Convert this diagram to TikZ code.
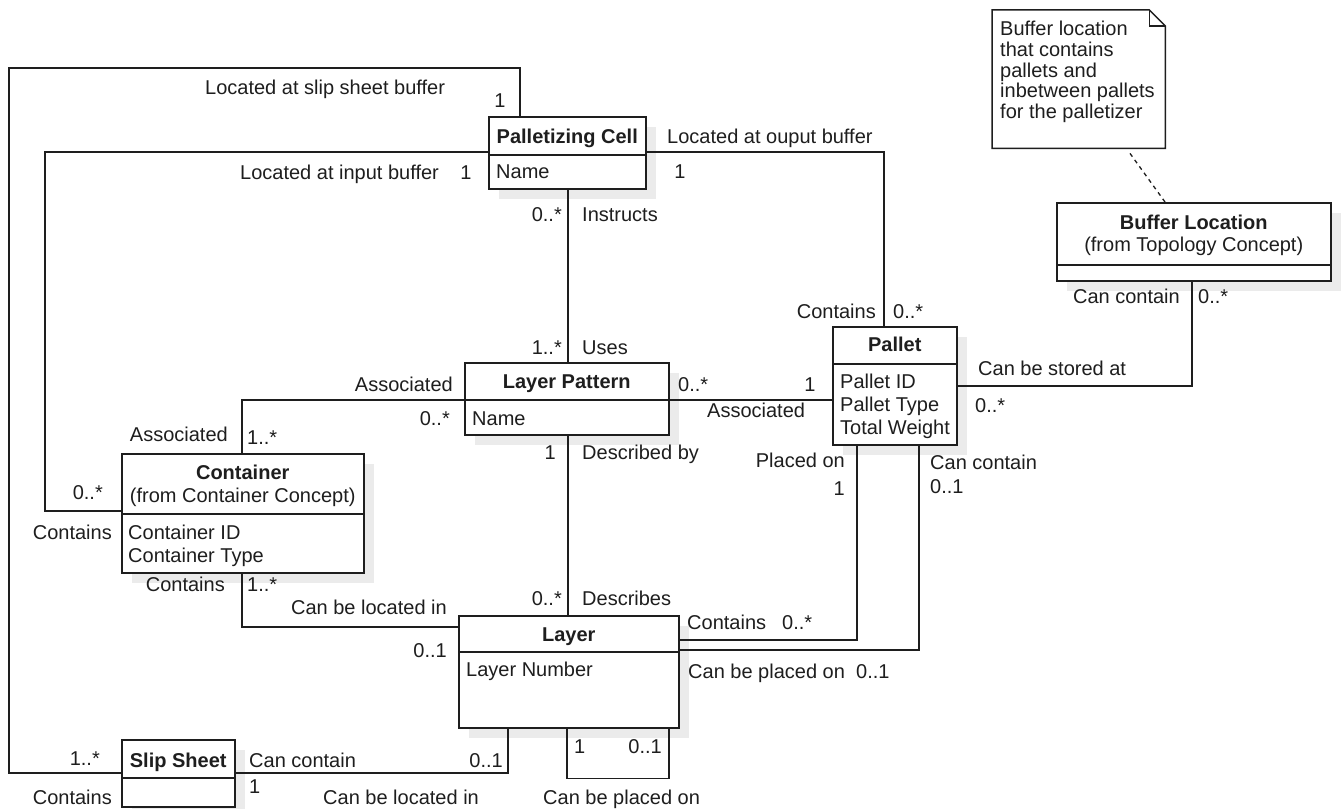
\documentclass[tikz,border=0pt]{standalone}
\usepackage{fontspec}
\setmainfont{Liberation Sans}
\usetikzlibrary{calc,shadows}
\definecolor{ink}{HTML}{1E1E1E}
\definecolor{shade}{HTML}{EBEBEB}

\begin{document}
\begin{tikzpicture}[x=1pt,y=-1pt,
  every node/.style={font=\fontsize{20}{24}\selectfont, text=ink},
  wire/.style={draw=ink, line width=1.5pt},
  classbox/.style={draw=ink, line width=1.5pt, fill=white, anchor=north west, inner sep=0pt,
    drop shadow={shadow xshift=10pt, shadow yshift=-10pt, fill=shade, opacity=1}},
  lbl/.style={inner sep=0pt, text height=15pt, text depth=1pt},
  title/.style={lbl, font=\fontsize{20}{24}\selectfont\bfseries},
]
\path[use as bounding box, fill=white] (0,0) rectangle (1343,808);

% ---------- classes ----------
\node[classbox, minimum width=157pt, minimum height=72pt]  (pc)  at (488,116) {};
\node[classbox, minimum width=204pt, minimum height=72pt]  (lp)  at (464,362) {};
\node[classbox, minimum width=124pt, minimum height=118pt] (pal) at (832,326) {};
\node[classbox, minimum width=274pt, minimum height=78pt]  (bl)  at (1056,202) {};
\node[classbox, minimum width=242pt, minimum height=119pt] (con) at (121,453) {};
\node[classbox, minimum width=220pt, minimum height=112pt] (lay) at (458,615) {};
\node[classbox, minimum width=113pt, minimum height=67pt]  (ss)  at (121,739) {};

% compartment dividers
\draw[wire] ($(pc.north west)+(0,39)$)  -- ($(pc.north east)+(0,39)$);
\draw[wire] ($(lp.north west)+(0,38)$)  -- ($(lp.north east)+(0,38)$);
\draw[wire] ($(pal.north west)+(0,38)$) -- ($(pal.north east)+(0,38)$);
\draw[wire] ($(bl.north west)+(0,63)$)  -- ($(bl.north east)+(0,63)$);
\draw[wire] ($(con.north west)+(0,61)$) -- ($(con.north east)+(0,61)$);
\draw[wire] ($(lay.north west)+(0,37)$) -- ($(lay.north east)+(0,37)$);
\draw[wire] ($(ss.north west)+(0,39)$)  -- ($(ss.north east)+(0,39)$);

% class names and attributes
\node[title] at ($(pc.north)+(0,20)$)  {Palletizing Cell};
\node[lbl, anchor=west] at ($(pc.north west)+(8,55)$) {Name};
\node[title] at ($(lp.north)+(0,19)$)  {Layer Pattern};
\node[lbl, anchor=west] at ($(lp.north west)+(8,56)$) {Name};
\node[title] at ($(pal.north)+(0,18)$) {Pallet};
\node[lbl, anchor=west] at ($(pal.north west)+(8,55)$)  {Pallet ID};
\node[lbl, anchor=west] at ($(pal.north west)+(8,78)$)  {Pallet Type};
\node[lbl, anchor=west] at ($(pal.north west)+(8,101)$) {Total Weight};
\node[title] at ($(bl.north)+(0,20)$)  {Buffer Location};
\node[lbl]   at ($(bl.north)+(0,42)$)  {(from Topology Concept)};
\node[title] at ($(con.north)+(0,19)$) {Container};
\node[lbl]   at ($(con.north)+(0,42)$) {(from Container Concept)};
\node[lbl, anchor=west] at ($(con.north west)+(7,79)$)  {Container ID};
\node[lbl, anchor=west] at ($(con.north west)+(7,102)$) {Container Type};
\node[title] at ($(lay.north)+(0,19)$) {Layer};
\node[lbl, anchor=west] at ($(lay.north west)+(8,54)$) {Layer Number};
\node[title] at ($(ss.north)+(0,21)$)  {Slip Sheet};

% ---------- note ----------
\node[minimum width=173pt, minimum height=138pt, anchor=north west, inner sep=0pt] (note) at (992,10) {};
\draw[wire, fill=white] (note.north west) -- ($(note.north east)+(-16,0)$) -- ($(note.north east)+(0,16)$)
  -- (note.south east) -- (note.south west) -- cycle;
\draw[wire] ($(note.north east)+(-16,0)$) -- ($(note.north east)+(-16,16)$) -- ($(note.north east)+(0,16)$);
\node[anchor=north west, align=left, inner sep=0pt, font=\fontsize{20}{20.7}\selectfont]
  at ($(note.north west)+(8,11)$)
  {Buffer location\\that contains\\pallets and\\inbetween pallets\\for the palletizer};
\draw[draw=ink, line width=1.3pt, dash pattern=on 4pt off 4pt]
  ($(note.south west)+(138,5)$) -- ($(bl.north west)+(109,0)$);

% ---------- associations ----------
\coordinate (k1) at (9,68);
\coordinate (k2) at (45,152);
\draw[wire] ($(pc.north west)+(32,0)$) |- (k1) |- ($(ss.north west)+(0,34)$);
\draw[wire] ($(pc.north west)+(0,36)$) -- (k2) |- ($(con.north west)+(0,58)$);
\draw[wire] ($(pc.north east)+(0,36)$) -| ($(pal.north west)+(52,0)$);
\draw[wire] ($(pc.south west)+(80,0)$) -- ($(lp.north west)+(104,0)$);
\draw[wire] ($(lp.north east)+(0,38)$) -- ($(pal.north west)+(0,74)$);
\draw[wire] ($(lp.north west)+(0,38)$) -| ($(con.north west)+(121,0)$);
\draw[wire] ($(lp.south west)+(104,0)$) -- ($(lay.north west)+(110,0)$);
\draw[wire] ($(con.south west)+(121,0)$) |- ($(lay.north west)+(0,12)$);
\draw[wire] ($(lay.north east)+(0,25)$) -| ($(pal.south west)+(25,0)$);
\draw[wire] ($(lay.north east)+(0,35)$) -| ($(pal.south west)+(87,0)$);
\draw[wire] ($(bl.south west)+(136,0)$) |- ($(pal.north east)+(0,60)$);
\draw[wire] ($(lay.south west)+(109,0)$) |- ($(lay.south west)+(211,50)$) -- ($(lay.south west)+(211,0)$);
\draw[wire] ($(lay.south west)+(50,0)$) |- ($(ss.north east)+(0,34)$);

% ---------- role names and multiplicities ----------
\node[lbl, anchor=west]   at (205,87)  {Located at slip sheet buffer};
\node[lbl]                at (500,100) {1};
\node[lbl, anchor=west]   at (240,172) {Located at input buffer};
\node[lbl]                at (466,172) {1};
\node[lbl, anchor=west]   at (667,136) {Located at ouput buffer};
\node[lbl]                at (680,171) {1};
\node[lbl, anchor=east]   at (562,214) {0..*};
\node[lbl, anchor=west]   at (582,214) {Instructs};
\node[lbl, anchor=east]   at (562,347) {1..*};
\node[lbl, anchor=west]   at (582,347) {Uses};
\node[lbl, anchor=east]   at (876,311) {Contains};
\node[lbl, anchor=west]   at (893,311) {0..*};
\node[lbl, anchor=east]   at (1180,296) {Can contain};
\node[lbl, anchor=west]   at (1198,296) {0..*};
\node[lbl, anchor=west]   at (978,368) {Can be stored at};
\node[lbl, anchor=west]   at (975,405) {0..*};
\node[lbl, anchor=west]   at (678,384) {0..*};
\node[lbl]                at (810,384) {1};
\node[lbl, anchor=west]   at (707,410) {Associated};
\node[lbl, anchor=east]   at (453,384) {Associated};
\node[lbl, anchor=east]   at (450,418) {0..*};
\node[lbl, anchor=east]   at (228,434) {Associated};
\node[lbl, anchor=west]   at (247,437) {1..*};
\node[lbl, anchor=east]   at (103,492) {0..*};
\node[lbl, anchor=east]   at (112,532) {Contains};
\node[lbl, anchor=east]   at (225,584) {Contains};
\node[lbl, anchor=west]   at (247,584) {1..*};
\node[lbl, anchor=east]   at (447,607) {Can be located in};
\node[lbl, anchor=east]   at (447,650) {0..1};
\node[lbl, anchor=east]   at (556,452) {1};
\node[lbl, anchor=west]   at (582,452) {Described by};
\node[lbl, anchor=east]   at (562,598) {0..*};
\node[lbl, anchor=west]   at (582,598) {Describes};
\node[lbl, anchor=west]   at (687,622) {Contains};
\node[lbl, anchor=west]   at (782,622) {0..*};
\node[lbl, anchor=east]   at (845,460) {Placed on};
\node[lbl, anchor=east]   at (845,488) {1};
\node[lbl, anchor=west]   at (930,462) {Can contain};
\node[lbl, anchor=west]   at (930,486) {0..1};
\node[lbl, anchor=west]   at (688,671) {Can be placed on};
\node[lbl, anchor=west]   at (856,671) {0..1};
\node[lbl, anchor=west]   at (574,746) {1};
\node[lbl, anchor=east]   at (662,746) {0..1};
\node[lbl, anchor=west]   at (543,797) {Can be placed on};
\node[lbl, anchor=west]   at (249,760) {Can contain};
\node[lbl, anchor=west]   at (249,786) {1};
\node[lbl, anchor=east]   at (503,760) {0..1};
\node[lbl, anchor=west]   at (323,797) {Can be located in};
\node[lbl, anchor=east]   at (100,758) {1..*};
\node[lbl, anchor=east]   at (112,797) {Contains};
\end{tikzpicture}
\end{document}
